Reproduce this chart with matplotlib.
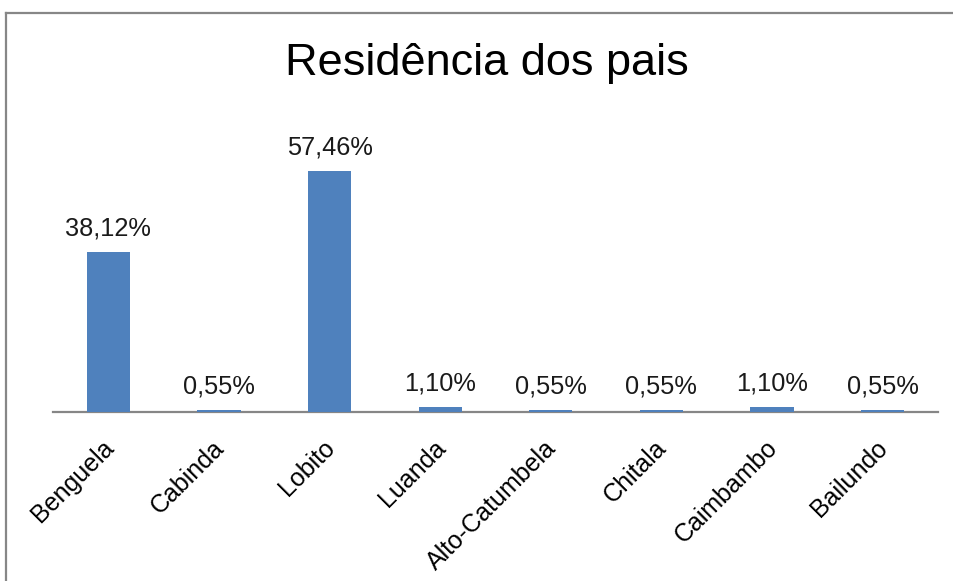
import matplotlib
matplotlib.use("Agg")
import matplotlib.pyplot as plt
import matplotlib.transforms as mtransforms
from matplotlib.lines import Line2D

# dados
categorias = ["Benguela", "Cabinda", "Lobito", "Luanda", "Alto-Catumbela",
              "Chitala", "Caimbambo", "Bailundo"]
percentagens = [38.12, 0.55, 57.46, 1.10, 0.55, 0.55, 1.10, 0.55]
titulo = "Residência dos pais"

plt.rcParams["font.family"] = ["Liberation Sans", "DejaVu Sans"]

W, H = 954, 581
fig = plt.figure(figsize=(W / 100, H / 100), dpi=100)
ax = fig.add_axes([53 / W, 1 - 412 / H, (938 - 53) / W, (412 - 119) / H])

x = range(len(categorias))
ax.bar(x, percentagens, width=0.39, color="#4F81BD", zorder=3)
for xi, v in zip(x, percentagens):
    ax.annotate(f"{v:.2f}%".replace(".", ","), (xi, v), xytext=(0, 12),
                textcoords="offset points", ha="center", va="baseline",
                fontsize=18.3, color="#1a1a1a")

ax.set_xlim(-0.5, len(categorias) - 0.5)
ax.set_ylim(0, 70)
ax.set_yticks([])
ax.set_xticks(list(x))
ax.set_xticklabels(categorias, rotation=45, ha="right", va="top",
                   rotation_mode="anchor", fontsize=18)
ax.tick_params(axis="x", length=0, pad=17)
shift = mtransforms.ScaledTranslation(-7 / 100, 0, fig.dpi_scale_trans)
for lbl in ax.get_xticklabels():
    lbl.set_transform(lbl.get_transform() + shift)
for s in ["top", "right", "left"]:
    ax.spines[s].set_visible(False)
ax.spines["bottom"].set_color("#868686")
ax.spines["bottom"].set_linewidth(1.6)

fig.text(487 / W, 1 - 75 / H, titulo, ha="center", va="baseline", fontsize=32.5)

# moldura do grafico (so esquerda e topo visiveis)
bx, by = 6.5 / W, 1 - 12.5 / H
fig.add_artist(Line2D([bx, bx], [-0.1, by], transform=fig.transFigure,
                      color="#878787", lw=1.6))
fig.add_artist(Line2D([bx, 1.1], [by, by], transform=fig.transFigure,
                      color="#878787", lw=1.6))

fig.savefig("out.png", dpi=100)
